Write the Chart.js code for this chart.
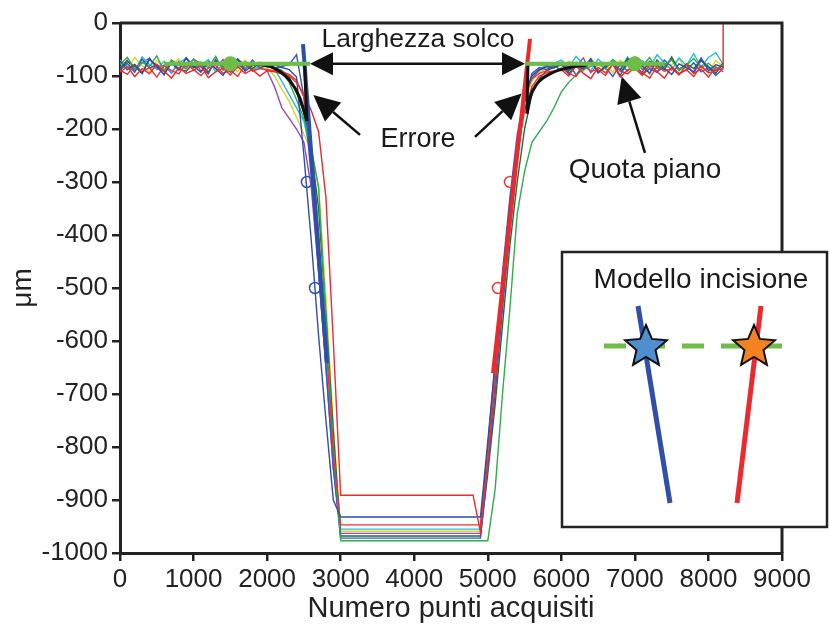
<!DOCTYPE html>
<html><head><meta charset="utf-8">
<script src="https://cdn.jsdelivr.net/npm/chart.js@4/dist/chart.umd.min.js"></script>
<style>html,body{margin:0;padding:0;background:#fff}#wrap{width:830px;height:628px}</style>
</head><body><div id="wrap"><canvas id="c" width="830" height="628"></canvas></div>
<script>
// ---------- data ----------
const X_LEFT = [0,100,200,300,400,500,600,700,800,900,1000,1100,1200,1300,1400,1500,1600,1700,1800,1900,2000,2100,2200,2300,2400,2500,2600,2700,2800,2900,3000];
const X_RIGHT = [4800,4900,5000,5100,5200,5300,5400,5500,5600,5700,5800,5900,6000,6100,6200,6300,6400,6500,6600,6700,6800,6900,7000,7100,7200,7300,7400,7500,7600,7700,7800,7900,8000,8100,8200];

const PURPLE_L = [-84,-70,-90,-76,-66,-88,-79,-95,-72,-83,-68,-91,-77,-86,-69,-93,-80,-73,-89,-84,-90,-120,-160,-180,-200,-225,-310,-470,-650,-840,-963];
const PURPLE_R = [-963,-963,-800,-640,-470,-330,-210,-140,-105,-90,-84,-80,-74,-89,-81,-66,-94,-77,-86,-70,-91,-80,-64,-88,-75,-93,-82,-68,-87,-78,-95,-71,-84,-90,-79];
const YELLOW_L = [-75,-89,-65,-81,-93,-71,-87,-78,-68,-90,-82,-72,-95,-67,-85,-77,-92,-70,-83,-86,-85,-100,-125,-148,-178,-210,-240,-310,-520,-760,-959];
const YELLOW_R = [-959,-959,-820,-670,-510,-360,-240,-150,-110,-92,-85,-81,-88,-72,-80,-91,-66,-85,-76,-94,-70,-82,-89,-74,-97,-69,-86,-79,-67,-90,-77,-84,-93,-71,-82];
const CYAN_L = [-70,-82,-91,-64,-78,-87,-72,-95,-76,-66,-89,-80,-69,-92,-77,-67,-85,-73,-90,-79,-78,-86,-110,-135,-160,-185,-250,-430,-630,-830,-955];
const CYAN_R = [-955,-955,-810,-660,-500,-350,-230,-140,-100,-86,-80,-76,-70,-84,-63,-77,-90,-68,-81,-72,-88,-64,-79,-71,-86,-60,-75,-89,-66,-80,-58,-83,-65,-56,-78];
const DKGREEN_L = [-86,-72,-82,-95,-69,-80,-91,-75,-88,-66,-84,-77,-93,-71,-82,-89,-68,-80,-86,-75,-80,-84,-90,-102,-130,-170,-240,-350,-550,-770,-968];
const DKGREEN_R = [-968,-968,-850,-720,-570,-420,-300,-200,-135,-105,-90,-84,-79,-91,-74,-85,-68,-94,-82,-76,-89,-67,-84,-93,-72,-80,-88,-64,-90,-77,-86,-70,-82,-95,-75];
const GREEN_L = [-78,-65,-87,-74,-82,-62,-91,-70,-80,-86,-68,-76,-84,-63,-89,-78,-71,-86,-74,-80,-82,-86,-92,-112,-145,-180,-235,-310,-560,-800,-977];
const GREEN_R = [-977,-977,-977,-880,-700,-540,-360,-280,-225,-205,-185,-160,-130,-112,-98,-88,-82,-75,-87,-69,-80,-91,-73,-82,-65,-86,-78,-70,-89,-80,-67,-84,-76,-88,-78];
const BLUE1_L = [-72,-88,-78,-95,-67,-83,-97,-75,-89,-66,-81,-93,-73,-86,-99,-77,-68,-91,-80,-74,-83,-79,-84,-88,-102,-250,-410,-590,-750,-900,-932];
const BLUE1_R = [-932,-932,-790,-640,-480,-340,-225,-140,-100,-88,-82,-85,-75,-96,-79,-87,-68,-93,-82,-76,-99,-72,-89,-81,-95,-70,-86,-97,-77,-84,-92,-66,-90,-79,-83];
const BLUE2_L = [-89,-76,-93,-68,-85,-79,-98,-72,-87,-91,-75,-83,-96,-69,-81,-92,-77,-88,-70,-85,-80,-85,-82,-78,-60,-140,-290,-470,-650,-840,-972];
const BLUE2_R = [-972,-972,-840,-700,-540,-390,-260,-150,-95,-84,-88,-80,-90,-76,-98,-80,-71,-94,-84,-101,-78,-90,-74,-97,-86,-93,-70,-82,-96,-88,-75,-92,-84,-99,-86];
const RED1_L = [-93,-82,-101,-86,-96,-78,-91,-104,-84,-95,-89,-80,-103,-92,-85,-98,-82,-95,-88,-100,-90,-92,-96,-100,-112,-135,-165,-205,-330,-600,-891];
const RED1_R = [-891,-960,-830,-680,-520,-370,-250,-165,-120,-100,-94,-90,-88,-100,-81,-95,-105,-84,-94,-78,-102,-89,-86,-99,-79,-92,-104,-83,-96,-88,-101,-81,-94,-90,-85];
const RED1_TAIL_X = [8200], RED1_TAIL_Y = [0];
const RED2_L = [-89,-97,-79,-92,-84,-102,-81,-90,-96,-76,-88,-99,-85,-80,-95,-89,-101,-78,-91,-86,-88,-90,-92,-97,-108,-140,-230,-400,-600,-810,-947];
const RED2_R = [-947,-947,-800,-650,-490,-340,-220,-140,-105,-95,-90,-93,-85,-95,-101,-80,-91,-88,-99,-77,-90,-96,-84,-93,-104,-82,-91,-86,-98,-79,-95,-87,-102,-83,-92];

// model fits, markers, plane level, corner model
const BLUE_FIT_X = [2488, 2814], BLUE_FIT_Y = [-40, -642];
const RED_FIT_X = [5574, 5071], RED_FIT_Y = [-30, -661];
const BLUE_MARK_X = [2541, 2651], BLUE_MARK_Y = [-300, -500];
const RED_MARK_X = [5302, 5139], RED_MARK_Y = [-300, -500];
const PLANE_LEFT_X = [600, 2583], PLANE_RIGHT_X = [5506, 7400], PLANE_Y = -77;
const PLANE_DOTS_X = [1500, 7000];
const CORNER_L_X = [1770, 2510, 2540], CORNER_L_Y = [-77, -77, -185];
const CURVE_L_X = [1770, 2080, 2310, 2440, 2510, 2540], CURVE_L_Y = [-77, -84, -109, -140, -170, -185];
const CORNER_R_X = [5533, 5546, 6349], CORNER_R_Y = [-171, -77, -77];
const CURVE_R_X = [5533, 5574, 5669, 5846, 6077, 6349], CURVE_R_Y = [-171, -141, -115, -96, -85, -79];

// annotation anchors (data units)
const WIDTH_ARROW_X = [2583, 5506];
const ERR_LEFT = {tail:[3263,-211], tip:[2628,-136]};
const ERR_RIGHT = {tail:[4826,-215], tip:[5461,-133]};
const QUOTA_ARROW = {tail:[7137,-245], tip:[6821,-101]};

const X_TICKS = [0,1000,2000,3000,4000,5000,6000,7000,8000,9000];
const Y_TICKS = [0,-100,-200,-300,-400,-500,-600,-700,-800,-900,-1000];

// ---------- build ----------
const pts = (xs, ys) => xs.map((x, i) => ({x, y: ys[i]}));
const trace = (L, R, color, extraX, extraY) => ({
  data: pts(X_LEFT, L).concat(pts(X_RIGHT, R)).concat(extraX ? pts(extraX, extraY) : []),
  borderColor: color, borderWidth: 1.4, pointRadius: 0, showLine: true, tension: 0
});
const line = (xs, ys, color, w, extra) => Object.assign({
  data: pts(xs, ys), borderColor: color, borderWidth: w, pointRadius: 0, showLine: true, tension: 0
}, extra || {});

const datasets = [
  line(PLANE_DOTS_X, [PLANE_Y, PLANE_Y], '#6dbd46', 0, {showLine:false, pointRadius:7.5, pointBackgroundColor:'#6dbd46', pointBorderWidth:0}),
  line(PLANE_LEFT_X, [PLANE_Y, PLANE_Y], '#6dbd46', 4),
  line(PLANE_RIGHT_X, [PLANE_Y, PLANE_Y], '#6dbd46', 4),
  line(CORNER_L_X, CORNER_L_Y, '#111', 3),
  line(CURVE_L_X, CURVE_L_Y, '#111', 3, {cubicInterpolationMode:'monotone'}),
  line(CORNER_R_X, CORNER_R_Y, '#111', 3),
  line(CURVE_R_X, CURVE_R_Y, '#111', 3, {cubicInterpolationMode:'monotone'}),
  line(BLUE_FIT_X, BLUE_FIT_Y, '#2c4fa8', 4),
  line(RED_FIT_X, RED_FIT_Y, '#ec2a2e', 4),
  line(BLUE_MARK_X, BLUE_MARK_Y, '#3552b0', 0, {showLine:false, pointRadius:5.5, pointBorderWidth:1.5, pointBorderColor:'#3552b0', pointBackgroundColor:'rgba(0,0,0,0)'}),
  line(RED_MARK_X, RED_MARK_Y, '#ea3a3e', 0, {showLine:false, pointRadius:5.5, pointBorderWidth:1.5, pointBorderColor:'#ea3a3e', pointBackgroundColor:'rgba(0,0,0,0)'}),
  trace(RED1_L, RED1_R, '#ea2b2f', RED1_TAIL_X, RED1_TAIL_Y),
  trace(BLUE1_L, BLUE1_R, '#2d4fa6'),
  trace(RED2_L, RED2_R, '#e8353a'),
  trace(GREEN_L, GREEN_R, '#2fac4c'),
  trace(BLUE2_L, BLUE2_R, '#3758c0'),
  trace(DKGREEN_L, DKGREEN_R, '#1d6e36'),
  trace(CYAN_L, CYAN_R, '#2fb8de'),
  trace(YELLOW_L, YELLOW_R, '#d8d52b'),
  trace(PURPLE_L, PURPLE_R, '#9b45b2')
];

const FONT = '"Liberation Sans", Arial, sans-serif';
Chart.defaults.font.family = FONT;
Chart.defaults.color = '#222';

function arrowHead(ctx, bx, by, tx, ty, len, half) {
  const a = Math.atan2(ty - by, tx - bx);
  const cx = tx - len * Math.cos(a), cy = ty - len * Math.sin(a);
  ctx.beginPath();
  ctx.moveTo(tx, ty);
  ctx.lineTo(cx + half * Math.sin(a), cy - half * Math.cos(a));
  ctx.lineTo(cx - half * Math.sin(a), cy + half * Math.cos(a));
  ctx.closePath(); ctx.fill();
  return [cx, cy];
}
function arrow(ctx, x1, y1, x2, y2, len, half, lw) {
  const [cx, cy] = arrowHead(ctx, x1, y1, x2, y2, len, half);
  ctx.lineWidth = lw; ctx.beginPath(); ctx.moveTo(x1, y1); ctx.lineTo(cx, cy); ctx.stroke();
}
function star(ctx, cx, cy, R, r, fill) {
  ctx.beginPath();
  for (let k = 0; k < 10; k++) {
    const rad = k % 2 ? r : R, ang = -Math.PI / 2 + k * Math.PI / 5;
    ctx.lineTo(cx + rad * Math.cos(ang), cy + rad * Math.sin(ang));
  }
  ctx.closePath(); ctx.fillStyle = fill; ctx.fill();
  ctx.lineWidth = 2; ctx.strokeStyle = '#111'; ctx.stroke();
}

const annot = {
  id: 'annot',
  afterDatasetsDraw(chart) {
    const {ctx, scales: {x, y}, chartArea: a} = chart;
    const px = v => x.getPixelForValue(v), py = v => y.getPixelForValue(v);
    ctx.save();
    ctx.strokeStyle = '#222'; ctx.fillStyle = '#111'; ctx.lineCap = 'butt';
    // frame top/right
    ctx.lineWidth = 3;
    ctx.beginPath(); ctx.moveTo(a.left, a.top); ctx.lineTo(a.right, a.top); ctx.lineTo(a.right, a.bottom); ctx.stroke();
    ctx.strokeStyle = '#111';
    // width double arrow
    const yl = py(PLANE_Y), xl = px(WIDTH_ARROW_X[0]), xr = px(WIDTH_ARROW_X[1]);
    arrowHead(ctx, xr, yl, xl, yl, 23, 11.5);
    arrowHead(ctx, xl, yl, xr, yl, 23, 11.5);
    ctx.lineWidth = 2.5; ctx.beginPath(); ctx.moveTo(xl + 20, yl); ctx.lineTo(xr - 20, yl); ctx.stroke();
    // other arrows
    for (const ar of [ERR_LEFT, ERR_RIGHT, QUOTA_ARROW]) {
      arrow(ctx, px(ar.tail[0]), py(ar.tail[1]), px(ar.tip[0]), py(ar.tip[1]), 26, 12.5, 2.5);
    }
    // texts
    ctx.fillStyle = '#1a1a1a'; ctx.textAlign = 'center'; ctx.textBaseline = 'alphabetic';
    ctx.font = '26.5px ' + FONT; ctx.fillText('Larghezza solco', px(4051), 47);
    ctx.font = '27px ' + FONT; ctx.fillText('Errore', px(4051), 146.5);
    ctx.font = '28px ' + FONT; ctx.fillText('Quota piano', px(7137), 178);
    // inset
    const L = 562, T = 252, R = 827, B = 527;
    ctx.fillStyle = '#fff'; ctx.fillRect(L, T, R - L, B - T);
    ctx.strokeStyle = '#222'; ctx.lineWidth = 2.5; ctx.strokeRect(L, T, R - L, B - T);
    ctx.fillStyle = '#1a1a1a'; ctx.font = '28px ' + FONT;
    ctx.fillText('Modello incisione', 701, 288);
    ctx.lineWidth = 5;
    ctx.strokeStyle = '#6dbd46'; ctx.setLineDash([22, 17]);
    ctx.beginPath(); ctx.moveTo(604, 346); ctx.lineTo(782, 346); ctx.stroke();
    ctx.setLineDash([]);
    ctx.strokeStyle = '#2f4fa8'; ctx.beginPath(); ctx.moveTo(638, 306); ctx.lineTo(670, 503); ctx.stroke();
    ctx.strokeStyle = '#ec2a2e'; ctx.beginPath(); ctx.moveTo(761, 306); ctx.lineTo(737, 503); ctx.stroke();
    star(ctx, 646, 347, 22, 10, '#4f8fd0');
    star(ctx, 754, 347, 22, 10, '#f58220');
    ctx.restore();
  }
};

new Chart(document.getElementById('c'), {
  type: 'scatter',
  data: {datasets},
  options: {
    responsive: false, animation: false, devicePixelRatio: 1, events: [],
    layout: {padding: {top: 23, right: 48, left: 0, bottom: 0}},
    plugins: {legend: {display: false}, tooltip: {enabled: false}},
    scales: {
      x: {
        type: 'linear', min: 0, max: 9000,
        afterBuildTicks: s => { s.ticks = X_TICKS.map(v => ({value: v})); },
        afterFit: s => { s.height = 75; },
        ticks: {font: {size: 26}, color: '#222', padding: 3, maxRotation: 0, autoSkip: false, callback: v => String(v)},
        grid: {drawOnChartArea: false, drawTicks: true, tickLength: 8, color: '#222', lineWidth: 2.5},
        border: {display: true, color: '#222', width: 3},
        title: {display: true, text: 'Numero punti acquisiti', font: {size: 29}, color: '#222', padding: {top: 0, bottom: 2}}
      },
      y: {
        type: 'linear', min: -1000, max: 0,
        afterBuildTicks: s => { s.ticks = Y_TICKS.map(v => ({value: v})); },
        afterFit: s => { s.width = 120; },
        ticks: {font: {size: 26}, color: '#222', padding: 4, autoSkip: false, callback: v => String(v)},
        grid: {drawOnChartArea: false, drawTicks: true, tickLength: 8, color: '#222', lineWidth: 2.5},
        border: {display: true, color: '#222', width: 3},
        title: {display: true, text: 'μm', font: {size: 28}, color: '#222', padding: {top: 6, bottom: 0}}
      }
    }
  },
  plugins: [annot]
});
</script></body></html>
